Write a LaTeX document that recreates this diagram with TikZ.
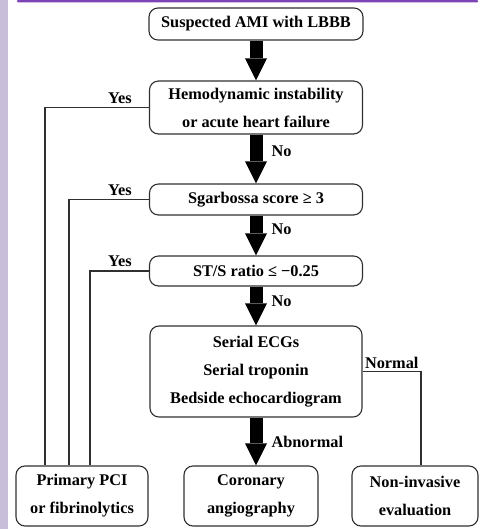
\documentclass[tikz,border=0pt]{standalone}
\usepackage{fontspec}
\setmainfont{Liberation Serif}
\usetikzlibrary{arrows.meta,positioning}
\definecolor{lavender}{HTML}{C9BEDA}
\definecolor{banner}{HTML}{7D44B6}
\definecolor{edge}{HTML}{303030}
\begin{document}
\begin{tikzpicture}[x=1pt,y=-1pt,
		box/.style={draw=edge,line width=1.1pt,rounded corners=9pt,fill=white,align=center,inner sep=0pt,
			font=\fontsize{16.3}{28}\selectfont\bfseries},
		lbl/.style={inner sep=1pt,font=\fontsize{16.3}{19}\selectfont\bfseries},
		link/.style={draw=edge,line width=1.2pt},
		bigarrow/.style={line width=13pt,-{Triangle[width=22pt,length=22pt,line width=0pt]}}]
		% frame
		\useasboundingbox (0,0) rectangle (480,529);
		\fill[lavender] (0,0) rectangle (8,529);
		\fill[banner,rounded corners=1pt] (17,0) rectangle (478,2.5);
		
		% decision boxes
		\node[box,minimum width=214pt,minimum height=32pt] (lbbb) at (256,24) {Suspected AMI with LBBB};
		\node[box,minimum width=213pt,minimum height=53pt] (hemo) at (256,107.5) {Hemodynamic instability\\or acute heart failure};
		\node[box,minimum width=213pt,minimum height=31pt] (sgar) at (256,199.5) {Sgarbossa score ≥ 3};
		\node[box,minimum width=213pt,minimum height=30pt] (stsr) at (256,271) {ST/S ratio ≤ −0.25};
		\node[box,minimum width=212pt,minimum height=91pt] (serial) at (256,371.5) {Serial ECGs\\Serial troponin\\Bedside echocardiogram};
		
		% outcomes
		\node[box,minimum width=132pt,minimum height=60pt] (pci) at (82,496) {Primary PCI\\or fibrinolytics};
		\node[box,minimum width=134pt,minimum height=60pt] (coro) at (251,496) {Coronary\\angiography};
		\node[box,minimum width=126pt,minimum height=60pt] (nonin) at (415,496) {Non-invasive\\evaluation};
		
		% main flow
		\draw[bigarrow] (lbbb) -- (hemo);
		\draw[bigarrow] (hemo) -- node[lbl,pos=0.35,right=8pt] (no1) {No} (sgar);
		\draw[bigarrow] (sgar) -- node[lbl,pos=0.35,right=8pt] (no2) {No} (stsr);
		\draw[bigarrow] (stsr) -- node[lbl,pos=0.38,right=8pt] (no3) {No} (serial);
		\draw[bigarrow] (serial.south) -- node[lbl,pos=0.5,right=8pt] (abn) {Abnormal} (serial.south |- coro.north);
		
		% yes branches
		\draw[link] (hemo.west) -| ([xshift=-37pt]pci.north);
		\draw[link] (sgar.west) -| ([xshift=-13pt]pci.north);
		\draw[link] (stsr.west) -| ([xshift=8pt]pci.north);
		\node[lbl,above left=3pt and 16pt of hemo.west] (yes1) {Yes};
		\node[lbl,above left=3pt and 16pt of sgar.west] (yes2) {Yes};
		\node[lbl,above left=3pt and 16pt of stsr.west] (yes3) {Yes};
		
		% normal branch
		\draw[link] (serial.east) -| node[lbl,pos=0.25,above=1pt] (norm) {Normal} ([xshift=6pt]nonin.north);
	\end{tikzpicture}
\end{document}
